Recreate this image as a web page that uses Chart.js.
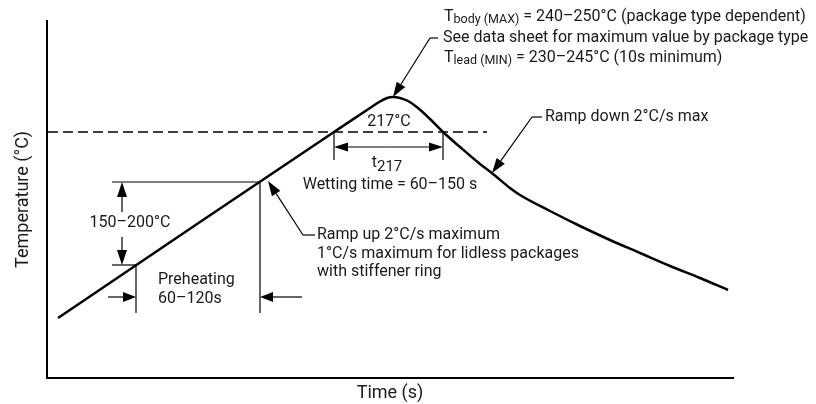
<!DOCTYPE html>
<html>
<head>
<meta charset="utf-8">
<script src="https://cdn.jsdelivr.net/npm/chart.js@4.4.1/dist/chart.umd.min.js"></script>
<style>
html,body{margin:0;padding:0;background:#fff;}
canvas{display:block;}
</style>
</head>
<body>
<canvas id="c" width="816" height="404"></canvas>
<script>
// Profile curve (abstract time / temperature units)
const curveTime = [11, 153, 287, 323, 333, 340, 346, 353, 361, 371, 383, 396, 413, 433, 446, 463, 473, 503, 533, 563, 593, 623, 653, 681];
const curveTemp = [60, 156, 246, 270, 276.5, 280, 281, 280, 277, 270, 259, 246, 231, 214, 204, 190, 183, 167, 152, 138, 125, 112, 100, 88];

// Reference levels and spans
const liquidusTemp = 246;         // 217 °C level
const liquidusSpan = [1, 440];    // dashed line extent
const t217Times = [287, 396];     // time above liquidus
const t217MarkBottom = 218;
const t217ArrowTemp = 231;
const preheatTemps = [113, 196];  // 150 and 200 °C
const preheatTimes = [89, 213];   // preheat start / end
const preheatLineStart = 65;
const preheatMarkBottom = 65;
const preheatArrowTemp = 81;
const preheatArrowOuter = [61, 255];
const tempArrowTime = 75;
const tempArrowInner = [166, 141];

// Leader lines: [tip, elbow, end]
const leaderUp = [[221, 197], [256, 143], [268, 143]];
const leaderDown = [[445, 205], [485, 261], [495, 261]];
const leaderPeak = [[346, 281], [383, 340], [391, 340]];

// Labels
const lblLiquidus = '217°C';
const lblWetting = 'Wetting time = 60–150 s';
const lblPreheatTemp = '150–200°C';
const lblPreheat = ['Preheating', '60–120s'];
const lblRampUp = ['Ramp up 2°C/s maximum', '1°C/s maximum for lidless packages', 'with stiffener ring'];
const lblRampDown = 'Ramp down 2°C/s max';
const lblPeak2 = 'See data sheet for maximum value by package type';

const FONT = 'Roboto, "Noto Sans", sans-serif';
const TXT = '#1a1a1a';
const FS = 16, FSUB = 12.5;

function arrowHead(ctx, x1, y1, x2, y2, L, W) {
  const a = Math.atan2(y2 - y1, x2 - x1);
  const bx = x2 - L * Math.cos(a), by = y2 - L * Math.sin(a);
  ctx.beginPath();
  ctx.moveTo(x1, y1); ctx.lineTo(bx, by); ctx.stroke();
  ctx.beginPath();
  ctx.moveTo(x2, y2);
  ctx.lineTo(bx + W * Math.sin(a), by - W * Math.cos(a));
  ctx.lineTo(bx - W * Math.sin(a), by + W * Math.cos(a));
  ctx.closePath(); ctx.fill();
}
function line(ctx, pts) {
  ctx.beginPath();
  ctx.moveTo(pts[0][0], pts[0][1]);
  for (let i = 1; i < pts.length; i++) ctx.lineTo(pts[i][0], pts[i][1]);
  ctx.stroke();
}
function rich(ctx, segs, x, y, align) {
  let w = 0;
  segs.forEach(s => { ctx.font = s.size + 'px ' + FONT; w += ctx.measureText(s.t).width; });
  let cx = align === 'center' ? x - w / 2 : x;
  ctx.textAlign = 'left'; ctx.textBaseline = 'middle';
  segs.forEach(s => {
    ctx.font = s.size + 'px ' + FONT;
    ctx.fillText(s.t, cx, y + (s.dy || 0));
    cx += ctx.measureText(s.t).width;
  });
}

const annot = {
  id: 'annot',
  afterDatasetsDraw(chart) {
    const ctx = chart.ctx, xs = chart.scales.x, ys = chart.scales.y;
    const X = v => xs.getPixelForValue(v), Y = v => ys.getPixelForValue(v);
    const P = p => [X(p[0]), Y(p[1])];
    ctx.save();
    ctx.strokeStyle = '#000'; ctx.fillStyle = '#000';
    // dashed 217 line
    ctx.lineWidth = 1.3; ctx.setLineDash([10, 5]);
    line(ctx, [[X(liquidusSpan[0]), Y(liquidusTemp)], [X(liquidusSpan[1]), Y(liquidusTemp)]]);
    ctx.setLineDash([]);
    ctx.lineWidth = 1.2;
    // t217 marks
    t217Times.forEach(t => line(ctx, [[X(t), Y(liquidusTemp)], [X(t), Y(t217MarkBottom)]]));
    const mid = (t217Times[0] + t217Times[1]) / 2;
    arrowHead(ctx, X(mid), Y(t217ArrowTemp), X(t217Times[0]), Y(t217ArrowTemp), 14, 4.5);
    arrowHead(ctx, X(mid), Y(t217ArrowTemp), X(t217Times[1]), Y(t217ArrowTemp), 14, 4.5);
    // preheat lines
    line(ctx, [[X(preheatLineStart), Y(preheatTemps[1])], [X(preheatTimes[1]), Y(preheatTemps[1])]]);
    line(ctx, [[X(preheatLineStart), Y(preheatTemps[0])], [X(preheatTimes[0]), Y(preheatTemps[0])]]);
    line(ctx, [[X(preheatTimes[1]), Y(preheatTemps[1])], [X(preheatTimes[1]), Y(preheatMarkBottom)]]);
    line(ctx, [[X(preheatTimes[0]), Y(preheatTemps[0])], [X(preheatTimes[0]), Y(preheatMarkBottom)]]);
    arrowHead(ctx, X(preheatArrowOuter[0]), Y(preheatArrowTemp), X(preheatTimes[0]), Y(preheatArrowTemp), 13, 5);
    arrowHead(ctx, X(preheatArrowOuter[1]), Y(preheatArrowTemp), X(preheatTimes[1]), Y(preheatArrowTemp), 13, 5);
    arrowHead(ctx, X(tempArrowTime), Y(tempArrowInner[0]), X(tempArrowTime), Y(preheatTemps[1]), 15, 5);
    arrowHead(ctx, X(tempArrowTime), Y(tempArrowInner[1]), X(tempArrowTime), Y(preheatTemps[0]), 15, 5);
    // leaders
    [leaderUp, leaderDown, leaderPeak].forEach(ld => {
      const t = P(ld[0]), e = P(ld[1]), n = P(ld[2]);
      line(ctx, [n, e]);
      arrowHead(ctx, e[0], e[1], t[0], t[1], 15, 5);
    });
    // text
    ctx.fillStyle = TXT;
    rich(ctx, [{t: lblLiquidus, size: FS}], X(342), Y(256), 'center');
    rich(ctx, [{t: 't', size: FS}, {t: '217', size: 15, dy: 4}], X(340), Y(215), 'center');
    rich(ctx, [{t: lblWetting, size: FS}], X(343), Y(193), 'center');
    rich(ctx, [{t: lblPreheatTemp, size: FS}], X(83), Y(155), 'center');
    lblPreheat.forEach((s, i) => rich(ctx, [{t: s, size: FS}], X(111), Y(98 - 18.5 * i), 'left'));
    lblRampUp.forEach((s, i) => rich(ctx, [{t: s, size: FS}], X(270), Y(143 - 18.5 * i), 'left'));
    rich(ctx, [{t: lblRampDown, size: FS}], X(498), Y(261), 'left');
    rich(ctx, [{t: 'T', size: FS}, {t: 'body (MAX)', size: FSUB, dy: 3}, {t: ' = 240–250°C (package type dependent)', size: FS}], X(397), Y(361), 'left');
    rich(ctx, [{t: lblPeak2, size: FS}], X(396), Y(340), 'left');
    rich(ctx, [{t: 'T', size: FS}, {t: 'lead (MIN)', size: FSUB, dy: 3}, {t: ' = 230–245°C (10s minimum)', size: FS}], X(397), Y(320), 'left');
    ctx.restore();
  }
};

const pts = curveTime.map((t, i) => ({x: t, y: curveTemp[i]}));
new Chart(document.getElementById('c'), {
  type: 'scatter',
  data: {datasets: [{data: pts, showLine: true, borderColor: '#000', borderWidth: 2.5, pointRadius: 0, cubicInterpolationMode: 'monotone', fill: false}]},
  options: {
    responsive: false, animation: false,
    layout: {padding: {left: 9, top: 21, right: 83, bottom: 0}},
    plugins: {legend: {display: false}, tooltip: {enabled: false}},
    scales: {
      x: {type: 'linear', min: 0, max: 686,
          grid: {display: false, drawTicks: false}, ticks: {display: false},
          border: {display: true, width: 2, color: '#000'},
          title: {display: true, text: 'Time (s)', color: TXT, font: {family: FONT, size: 18}, padding: {top: 4.2, bottom: 0.2}}},
      y: {type: 'linear', min: 0, max: 357,
          grid: {display: false, drawTicks: false}, ticks: {display: false},
          border: {display: true, width: 2, color: '#000'},
          title: {display: true, text: 'Temperature (°C)', color: TXT, font: {family: FONT, size: 18}, padding: {top: 4, bottom: 12.4}}}
    }
  },
  plugins: [annot]
});
</script>
</body>
</html>
